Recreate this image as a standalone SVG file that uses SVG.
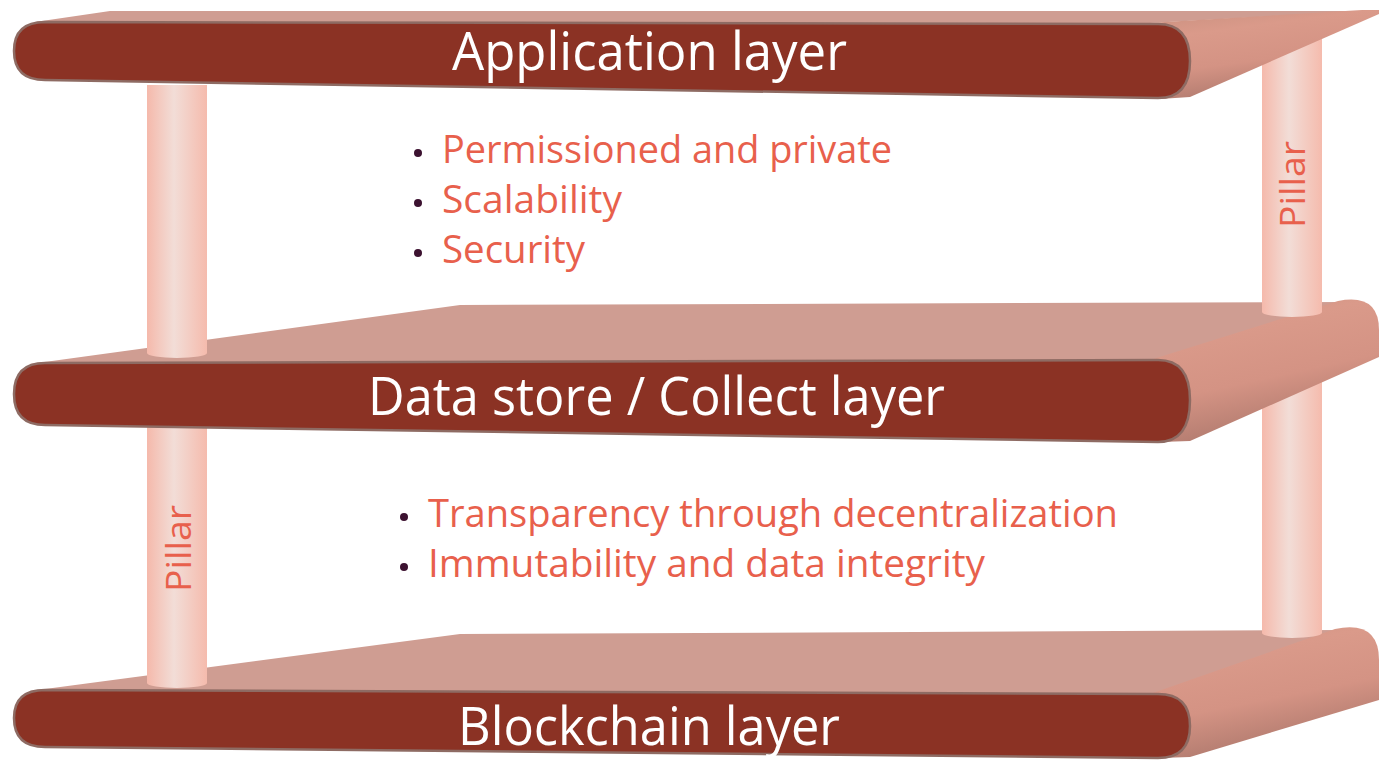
<svg xmlns="http://www.w3.org/2000/svg" width="1379" height="763" viewBox="0 0 1379 763">
<defs>
<linearGradient id="pillarG" x1="0" y1="0" x2="1" y2="0">
<stop offset="0" stop-color="#F5B9AB"/>
<stop offset="0.45" stop-color="#F2DDD7"/>
<stop offset="1" stop-color="#F5BBAD"/>
</linearGradient>
<linearGradient id="tubeG" x1="0" y1="0" x2="0.35" y2="1">
<stop offset="0" stop-color="#C9907F"/>
<stop offset="0.3" stop-color="#DA9A8A"/>
<stop offset="0.65" stop-color="#D49384"/>
<stop offset="1" stop-color="#B07A6E"/>
</linearGradient>
<style>
.top{fill:#CF9D92;}
.tube{fill:url(#tubeG);}
.face{fill:#8B3224;stroke:#8E6B63;stroke-width:2.5;}
.pillar{fill:url(#pillarG);}
.title{font-family:"Open Sans","Noto Sans",sans-serif;font-size:53px;fill:#FFFFFF;}
.bul{font-family:"Open Sans","Noto Sans",sans-serif;font-size:38px;fill:#E8604C;}
.dot{fill:#3C1230;}
.pl{font-family:"Open Sans","Noto Sans",sans-serif;font-size:35px;fill:#E8604C;}
</style>
</defs>

<!-- Bottom layer -->
<g id="blockchain-layer">
<polygon class="top" points="30,691 460,634 1345,630 1160,694"/>
<path class="tube" d="M1150,694 L1335,629 Q1379,620 1379,660 L1379,700 L1190,757 L1160,758 Z"/>
<path class="face" d="M45,690 L1158,694 Q1190,694 1190,726 Q1190,758 1158,758 L45,747 Q14,747 14,718 Q14,690 45,690 Z"/>
<text class="title" x="458" y="745" textLength="382" lengthAdjust="spacingAndGlyphs">Blockchain layer</text>
</g>

<!-- Lower pillars -->
<g id="pillar-lower-left">
<rect class="pillar" x="147" y="425" width="60" height="258"/>
<ellipse class="pillar" cx="177" cy="683" rx="30" ry="5"/>
<text class="pl" transform="translate(191,592) rotate(-90)" textLength="87" lengthAdjust="spacingAndGlyphs">Pillar</text>
</g>
<g id="pillar-lower-right">
<rect class="pillar" x="1262" y="360" width="60" height="273"/>
<ellipse class="pillar" cx="1292" cy="633" rx="30" ry="5"/>
</g>

<!-- Middle layer -->
<g id="data-store-layer">
<polygon class="top" points="30,364 460,305 1345,302 1160,360"/>
<path class="tube" d="M1150,360 L1338,301 Q1379,293 1379,330 L1379,357 L1190,441 L1160,442 Z"/>
<path class="face" d="M45,363 L1158,360 Q1190,360 1190,400 Q1190,442 1158,442 L45,425 Q14,425 14,394 Q14,363 45,363 Z"/>
<text class="title" x="368" y="415" textLength="577" lengthAdjust="spacingAndGlyphs">Data store / Collect layer</text>
</g>

<!-- Upper pillars -->
<g id="pillar-upper-left">
<rect class="pillar" x="147" y="85" width="60" height="268"/>
<ellipse class="pillar" cx="177" cy="353" rx="30" ry="5"/>
</g>
<g id="pillar-upper-right">
<rect class="pillar" x="1262" y="20" width="60" height="292"/>
<ellipse class="pillar" cx="1292" cy="312" rx="30" ry="5"/>
<text class="pl" transform="translate(1305,228) rotate(-90)" textLength="87" lengthAdjust="spacingAndGlyphs">Pillar</text>
</g>

<!-- Top layer -->
<g id="application-layer">
<polygon class="top" points="35,22 110,11 1365,11 1150,23"/>
<path class="tube" d="M1148,23 L1362,10 L1379,10 L1379,14 L1190,97 L1160,99 Z"/>
<path class="face" d="M45,22 L1158,24 Q1190,24 1190,61 Q1190,98 1158,98 L45,80 Q14,80 14,51 Q14,22 45,22 Z"/>
<text class="title" x="452" y="70" textLength="395" lengthAdjust="spacingAndGlyphs">Application layer</text>
</g>

<!-- Bullet lists -->
<g id="app-features">
<circle class="dot" cx="418" cy="153" r="4"/>
<text class="bul" x="442" y="163" textLength="450" lengthAdjust="spacingAndGlyphs">Permissioned and private</text>
<circle class="dot" cx="418" cy="203" r="4"/>
<text class="bul" x="442" y="213" textLength="180" lengthAdjust="spacingAndGlyphs">Scalability</text>
<circle class="dot" cx="418" cy="253" r="4"/>
<text class="bul" x="442" y="263" textLength="143" lengthAdjust="spacingAndGlyphs">Security</text>
</g>
<g id="data-features">
<circle class="dot" cx="404" cy="517" r="4"/>
<text class="bul" x="428" y="527" textLength="690" lengthAdjust="spacingAndGlyphs">Transparency through decentralization</text>
<circle class="dot" cx="404" cy="567" r="4"/>
<text class="bul" x="428" y="577" textLength="557" lengthAdjust="spacingAndGlyphs">Immutability and data integrity</text>
</g>
</svg>
